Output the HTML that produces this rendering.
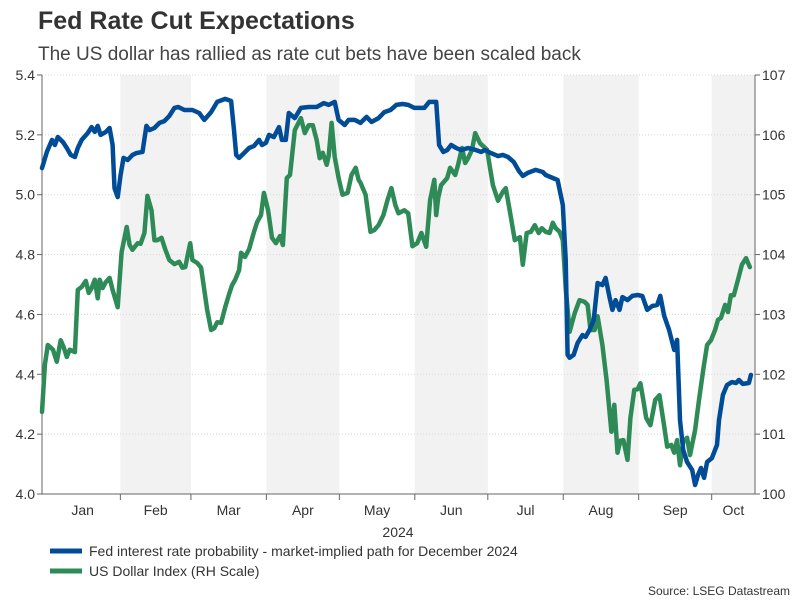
<!DOCTYPE html>
<html><head><meta charset="utf-8"><style>
body{margin:0;background:#fff;font-family:"Liberation Sans",Arial,sans-serif}
svg text{font-family:"Liberation Sans",Arial,sans-serif}
</style></head><body>
<svg id="c" width="801" height="601" xmlns="http://www.w3.org/2000/svg">
<text x="38" y="29" font-size="25" font-weight="bold" fill="#333">Fed Rate Cut Expectations</text>
<text x="38" y="60" font-size="19" fill="#444">The US dollar has rallied as rate cut bets have been scaled back</text>
<g id="bands"></g><g id="grid"></g><g id="axes"></g><g id="series"></g>
<text x="398" y="537" font-size="14" fill="#333" text-anchor="middle">2024</text>
<line x1="50" y1="551" x2="82" y2="551" stroke="#004C97" stroke-width="5"/>
<text x="89" y="556" font-size="14" fill="#333">Fed interest rate probability - market-implied path for December 2024</text>
<line x1="50" y1="571" x2="82" y2="571" stroke="#2E8B57" stroke-width="5"/>
<text x="89" y="576" font-size="14" fill="#333">US Dollar Index (RH Scale)</text>
<text x="790" y="595" font-size="12" fill="#333" text-anchor="end">Source: LSEG Datastream</text>
</svg>
<script>
const fedDays=[-1.2,0.8,2.9,4.1,5.3,7.4,9,10.6,12.3,13.5,15.1,17.6,19.2,20.5,21.7,22.9,25,26.6,27.8,28.6,29.9,31.1,32.3,34,36,37.6,40.1,41.7,43,45,47.1,49.1,51.1,53.2,54.8,57.3,60.6,63.4,65.5,68.3,70.8,74.1,76.5,77.7,78.6,79.8,81.8,83.9,85.9,88,89.2,90.8,92.1,94.1,96.2,97.4,99,100.2,102.7,105.2,108.4,111.7,114.6,116.6,119.1,120.7,123.2,124.8,127.3,129.7,132.2,134.2,137.1,139.5,142,144.4,146.9,149.3,151.8,155.9,157.9,160.8,162,163.7,165.3,166.9,169,171,173.9,177.2,179.2,180.8,183.3,186.2,188.2,190.3,192.7,194.8,196.4,198.4,201.7,204.6,205.8,208.7,210.7,212.8,214,214.8,215.6,217.3,218.9,220.9,222.2,223.8,225.5,227.1,229.1,230.4,232,233.2,234.5,236.1,237.3,239.4,241.4,243.5,245.5,247.5,249.6,251.6,252.9,254.5,256.5,258.6,259.8,261,262.3,263.9,266,267.2,268.4,269.6,270.9,272.1,274.1,276.2,277,278.6,280.3,282.3,284,285.2,286.8,289.3,290.1];
const fedValues=[5.089,5.143,5.183,5.166,5.193,5.176,5.156,5.133,5.126,5.156,5.183,5.206,5.226,5.21,5.23,5.2,5.21,5.223,5.166,5.022,4.992,5.066,5.123,5.116,5.133,5.139,5.143,5.23,5.216,5.223,5.24,5.246,5.263,5.29,5.293,5.283,5.283,5.273,5.25,5.276,5.31,5.32,5.313,5.216,5.133,5.123,5.139,5.156,5.163,5.183,5.166,5.173,5.2,5.193,5.226,5.183,5.183,5.273,5.256,5.29,5.293,5.293,5.306,5.3,5.31,5.25,5.233,5.25,5.25,5.24,5.26,5.243,5.256,5.276,5.283,5.3,5.303,5.3,5.29,5.29,5.31,5.31,5.166,5.143,5.149,5.166,5.156,5.149,5.156,5.149,5.143,5.149,5.139,5.129,5.133,5.126,5.109,5.079,5.063,5.073,5.083,5.076,5.066,5.056,5.049,4.966,4.782,4.465,4.455,4.465,4.505,4.531,4.525,4.548,4.581,4.705,4.698,4.722,4.658,4.615,4.648,4.615,4.658,4.648,4.662,4.665,4.662,4.615,4.628,4.632,4.662,4.595,4.548,4.481,4.515,4.247,4.147,4.107,4.08,4.03,4.064,4.087,4.054,4.107,4.12,4.164,4.247,4.331,4.364,4.374,4.371,4.381,4.368,4.371,4.398];
const dxyDays=[-1.2,0,1.2,3.3,4.9,6.5,7.8,9,10.2,12.3,13.5,15.1,16.8,18,19.2,20.5,21.7,22.5,23.7,25,26.6,27.8,29.9,31.5,33.6,34.8,36,38.1,39.3,40.9,42.1,43.8,45,46.2,47.9,49.5,51.1,53.2,55.2,56.5,57.7,58.9,59.7,60.6,62.6,64.2,66.7,68.3,69.6,70.8,72.4,74.1,75.7,76.9,78.2,79.8,80.6,82.2,83.9,85.9,87.2,88.8,90,91.7,93.3,94.9,96.6,97.8,99.4,100.7,102.7,105.2,106.8,108.4,110.1,111.7,112.9,114.2,115.8,116.6,117.8,119.1,120.7,122.3,124.4,126,127.7,128.9,129.7,131.8,133.8,135.4,137.1,139.1,140.8,142.4,144,145.3,147.7,149.3,151,153,154.7,156.7,158.3,160,160.8,161.6,162.8,165.3,166.5,168.6,169.8,171.4,172.7,173.9,175.5,176.8,178.8,181.7,182.9,184.1,186.2,188.2,189.4,191.1,193.1,195.2,196.4,198,199.7,201.3,202.9,204.2,205.8,207.4,208.7,209.9,211.5,212.8,214,215.6,217.7,219.7,221.8,223,224.2,225.9,227.1,229.1,230.8,232.8,234,235.3,236.5,237.7,239.4,240.6,242.2,243.5,244.7,245.9,247.1,248.8,250,250.8,252.5,254.1,255.7,257.4,258.6,259.8,261,262.3,263.9,265.1,267.2,268.8,270.5,272.1,273.7,275.4,276.6,277.8,279.5,280.7,281.9,283.1,284.8,286.4,288.1,289.7];
const dxyValues=[101.37,102.16,102.49,102.41,102.21,102.57,102.44,102.29,102.41,102.37,103.41,103.46,103.56,103.36,103.44,103.58,103.27,103.58,103.44,103.54,103.61,103.41,103.12,104.04,104.46,104.16,104.08,104.19,104.18,104.36,104.98,104.74,104.24,104.24,104.28,104.08,103.91,103.84,103.88,103.78,103.79,104.04,104.19,103.91,103.86,103.78,103.07,102.74,102.77,102.87,102.86,103.12,103.34,103.49,103.58,103.74,104.03,103.96,104.09,104.38,104.54,104.66,105.03,104.74,104.28,104.19,104.31,104.16,105.28,105.33,106.08,106.28,106.03,106.16,106.16,105.91,105.61,105.7,105.5,105.65,106.2,105.63,105.28,105,105.03,105.33,105.45,105.25,105.2,105,104.38,104.41,104.49,104.66,104.91,105.11,104.83,104.69,104.74,104.69,104.14,104.19,104.36,104.13,104.91,105.25,104.66,104.95,105.16,105.28,105.45,105.33,105.5,105.78,105.53,105.61,105.75,106.03,105.86,105.75,105.45,105.16,104.9,105.05,105.11,104.71,104.24,104.29,103.83,104.36,104.38,104.49,104.36,104.44,104.38,104.36,104.53,104.44,104.38,104.24,103.44,102.71,103.02,103.24,103.21,103.16,102.74,102.74,102.97,102.49,101.9,101.04,101.49,100.69,100.89,100.9,100.57,101.27,101.74,101.75,101.85,101.57,101.27,101.15,101.4,101.57,101.65,101.23,100.79,100.82,100.69,100.9,100.48,100.87,100.94,100.65,101.07,101.57,102.07,102.49,102.57,102.74,102.91,102.94,103.16,103.04,103.32,103.32,103.58,103.83,103.94,103.79];
const leftTicks=["4.0","4.2","4.4","4.6","4.8","5.0","5.2","5.4"];
const rightTicks=["100","101","102","103","104","105","106","107"];
const monthLabels=["Jan","Feb","Mar","Apr","May","Jun","Jul","Aug","Sep","Oct"];
const monthStarts=[0,31,60,91,121,152,182,213,244,274];

const X0=42,X1=755,Y0=75,Y1=494,D0=-1.2,D1=291.8;
const xs=d=>X0+(d-D0)/(D1-D0)*(X1-X0);
const yl=v=>Y1-(v-4.0)/1.4*(Y1-Y0);
const yr=v=>Y1-(v-100)/7*(Y1-Y0);
const NS="http://www.w3.org/2000/svg";
function mk(parent,tag,attrs){const e=document.createElementNS(NS,tag);for(const k in attrs)e.setAttribute(k,attrs[k]);document.getElementById(parent).appendChild(e);return e;}

// shaded bands (alternate months)
for(let i=1;i<monthStarts.length;i+=2){
  const a=xs(monthStarts[i]),b=i+1<monthStarts.length?xs(monthStarts[i+1]):X1;
  const r=mk('bands','rect',{x:a,y:Y0,width:Math.min(b,X1)-a,height:Y1-Y0,fill:'#f2f2f2'});
  
  
}
// gridlines & left labels
leftTicks.forEach(t=>{
  const y=yl(parseFloat(t));
  const g=mk('grid','line',{x1:X0,x2:X1,y1:y,y2:y,stroke:'#d8d8d8','stroke-dasharray':'1,2'});
  
  
  const tk=mk('axes','line',{x1:X0-5,x2:X0,y1:y,y2:y,stroke:'#666'});
  
  
  const tx=mk('axes','text',{x:X0-7,y:y+5,'font-size':14,fill:'#333','text-anchor':'end'});
  tx.textContent=t;
  
  
});
rightTicks.forEach(t=>{
  const y=yr(parseFloat(t));
  const tk=mk('axes','line',{x1:X1,x2:X1+5,y1:y,y2:y,stroke:'#666'});
  
  
  const tx=mk('axes','text',{x:X1+7,y:y+5,'font-size':14,fill:'#333'});
  tx.textContent=t;
  
  
});
const la=mk('axes','line',{x1:X0,x2:X0,y1:Y0,y2:Y1,stroke:'#666'});


const ra=mk('axes','line',{x1:X1,x2:X1,y1:Y0,y2:Y1,stroke:'#666'});


const ba=mk('axes','line',{x1:X0,x2:X1,y1:Y1,y2:Y1,stroke:'#666'});


monthStarts.forEach((d,i)=>{
  const x=xs(d);
  if(i>0){const tk=mk('axes','line',{x1:x,x2:x,y1:Y1,y2:Y1+6,stroke:'#666'});
  
  }
  const end=i+1<monthStarts.length?xs(monthStarts[i+1]):X1;
  const tx=mk('axes','text',{x:(Math.max(x,X0)+end)/2,y:Y1+21,'font-size':14,fill:'#333','text-anchor':'middle'});
  tx.textContent=monthLabels[i];
  
  
});
function line(days,vals,yf,color,name){
  const d=days.map((t,i)=>(i?'L':'M')+xs(t).toFixed(1)+','+yf(vals[i]).toFixed(1)).join('');
  const p=mk('series','path',{d:d,fill:'none',stroke:color,'stroke-width':4.5,'stroke-linejoin':'round','stroke-linecap':'round'});
  
  
}
line(dxyDays,dxyValues,yr,'#2E8B57','dxy-line');
line(fedDays,fedValues,yl,'#004C97','fed-rate-line');
</script>
</body></html>
